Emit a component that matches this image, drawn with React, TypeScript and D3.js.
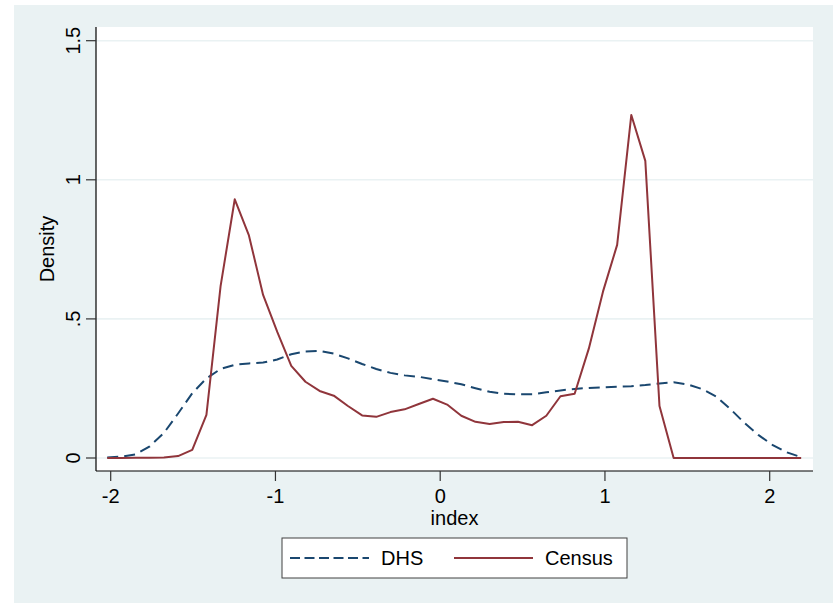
import React from "react";
import * as d3 from "d3";

// Evaluation grid of the kernel density estimates
const gridX = [
  -2.021, -1.935, -1.849, -1.763, -1.677, -1.591, -1.505, -1.419, -1.333, -1.247,
  -1.161, -1.075, -0.989, -0.904, -0.818, -0.732, -0.646, -0.56, -0.474, -0.388,
  -0.302, -0.216, -0.13, -0.044, 0.042, 0.128, 0.214, 0.3, 0.386, 0.472,
  0.558, 0.644, 0.73, 0.816, 0.902, 0.988, 1.074, 1.16, 1.245, 1.331,
  1.417, 1.503, 1.589, 1.675, 1.761, 1.847, 1.933, 2.019, 2.105, 2.191,
];

const dhsDensity = [
  0.002, 0.005, 0.013, 0.042, 0.09, 0.16, 0.233, 0.286, 0.32, 0.335,
  0.34, 0.343, 0.354, 0.373, 0.383, 0.385, 0.375, 0.358, 0.338, 0.32,
  0.306, 0.297, 0.292, 0.283, 0.275, 0.265, 0.251, 0.238, 0.231, 0.229,
  0.229, 0.236, 0.243, 0.248, 0.252, 0.254, 0.256, 0.258, 0.262, 0.268,
  0.272, 0.264, 0.248, 0.221, 0.176, 0.126, 0.082, 0.046, 0.02, 0.003,
];

const censusDensity = [
  0.0, 0.0, 0.001, 0.001, 0.002, 0.007, 0.029, 0.155, 0.618, 0.93,
  0.8, 0.586, 0.453, 0.331, 0.274, 0.241, 0.224, 0.187, 0.153, 0.148,
  0.165, 0.175, 0.194, 0.213, 0.192, 0.152, 0.13, 0.122, 0.129, 0.13,
  0.118, 0.152, 0.222, 0.231, 0.393, 0.598, 0.766, 1.233, 1.068, 0.187,
  0.0, 0.0, 0.0, 0.0, 0.0, 0.0, 0.0, 0.0, 0.0, 0.0,
];

const xTicks = [-2, -1, 0, 1, 2];
const yTicks = [0, 0.5, 1, 1.5];
const yTickLabels = ["0", ".5", "1", "1.5"];
const seriesNames = ["DHS", "Census"];

const W = 833;
const H = 603;
const FONT = "'Liberation Sans', Arial, sans-serif";
const FS = 20;
const BG = "#eaf2f3";
const DHS_COLOR = "#1a476f";
const CENSUS_COLOR = "#90353b";

export default function App() {
  const plot = { left: 96, right: 813, top: 27, bottom: 471 };
  const x = d3.scaleLinear().domain([-2, 2]).range([110.7, 769.7]);
  const y = d3.scaleLinear().domain([0, 1.5]).range([458, 40.7]);

  const line = d3
    .line<number>()
    .x((_, i) => x(gridX[i]))
    .y((d) => y(d));

  return (
    <svg
      width={W}
      height={H}
      style={{ position: "absolute", left: 0, top: 0, display: "block" }}
      fontFamily={FONT}
    >
      <rect x={0} y={0} width={W} height={H} fill="#ffffff" />
      <rect x={14} y={5} width={W - 14} height={H - 5} fill={BG} />
      <rect
        x={plot.left}
        y={plot.top}
        width={plot.right - plot.left}
        height={plot.bottom - plot.top}
        fill="#ffffff"
      />

      {/* horizontal grid */}
      {yTicks.map((t) => (
        <line
          key={"g" + t}
          x1={plot.left}
          x2={plot.right}
          y1={y(t)}
          y2={y(t)}
          stroke={BG}
          strokeWidth={1.6}
        />
      ))}

      {/* density curves */}
      <path
        d={line(dhsDensity) || ""}
        fill="none"
        stroke={DHS_COLOR}
        strokeWidth={2}
        strokeDasharray="11,6"
      />
      <path
        d={line(censusDensity) || ""}
        fill="none"
        stroke={CENSUS_COLOR}
        strokeWidth={2}
        strokeLinejoin="round"
      />

      {/* axes */}
      <line x1={plot.left} x2={plot.left} y1={plot.top} y2={plot.bottom} stroke="#000" strokeWidth={1.2} />
      <line x1={plot.left} x2={plot.right} y1={plot.bottom} y2={plot.bottom} stroke="#000" strokeWidth={1.2} />

      {yTicks.map((t, i) => (
        <g key={"yt" + t}>
          <line x1={plot.left - 10} x2={plot.left} y1={y(t)} y2={y(t)} stroke="#333" strokeWidth={1.2} />
          <text
            transform={`translate(80,${y(t)}) rotate(-90)`}
            textAnchor="middle"
            fontSize={FS}
            fill="#000"
          >
            {yTickLabels[i]}
          </text>
        </g>
      ))}

      {xTicks.map((t) => (
        <g key={"xt" + t}>
          <line x1={x(t)} x2={x(t)} y1={plot.bottom} y2={plot.bottom + 10} stroke="#333" strokeWidth={1.2} />
          <text x={x(t)} y={503} textAnchor="middle" fontSize={FS} fill="#000">
            {t < 0 ? "-" + Math.abs(t) : String(t)}
          </text>
        </g>
      ))}

      <text x={(plot.left + plot.right) / 2} y={524.5} textAnchor="middle" fontSize={FS} fill="#000">
        index
      </text>
      <text
        transform={`translate(54,${(plot.top + plot.bottom) / 2}) rotate(-90)`}
        textAnchor="middle"
        fontSize={FS}
        fill="#000"
      >
        Density
      </text>

      {/* legend */}
      <rect x={282} y={538} width={345} height={40} fill="#ffffff" stroke="#404040" strokeWidth={1} />
      <line x1={290} x2={369} y1={558} y2={558} stroke={DHS_COLOR} strokeWidth={2} strokeDasharray="10,4.5" />
      <text x={381} y={565} fontSize={FS} fill="#000">
        {seriesNames[0]}
      </text>
      <line x1={454} x2={533} y1={558} y2={558} stroke={CENSUS_COLOR} strokeWidth={2} />
      <text x={545} y={565} fontSize={FS} fill="#000">
        {seriesNames[1]}
      </text>
    </svg>
  );
}
